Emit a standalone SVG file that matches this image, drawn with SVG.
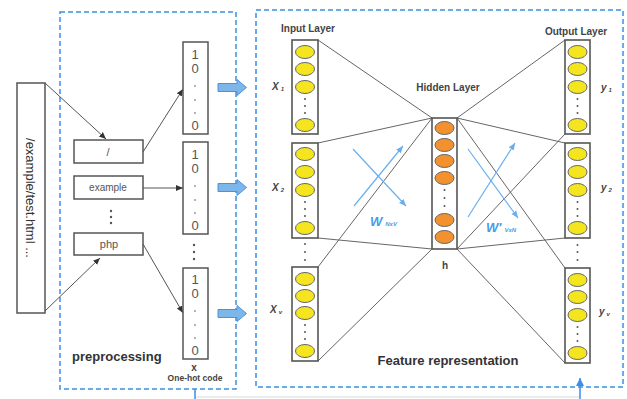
<svg xmlns="http://www.w3.org/2000/svg" width="627" height="399" viewBox="0 0 627 399">
  <defs>
    <style>
      text { font-family: "Liberation Sans", Arial, sans-serif; }
      .frame { fill: none; stroke: #3d8ee6; stroke-width: 1.5; stroke-dasharray: 5 3; }
      .box { fill: #fff; stroke: #555; stroke-width: 1.5; }
      .col { fill: #fff; stroke: #555; stroke-width: 1.6; }
      .yel { fill: #f4e51e; stroke: #666; stroke-width: 1; }
      .org { fill: #f2912d; stroke: #666; stroke-width: 1; }
      .edge { stroke: #555; stroke-width: 1; fill: none; }
      .net { stroke: #666; stroke-width: 1; fill: none; }
      .w { stroke: #6aaef0; stroke-width: 1.2; fill: none; marker-end: url(#bluehead); }
      .dig { font-size: 13px; fill: #555; text-anchor: middle; }
      .lbl { font-size: 10px; font-weight: bold; fill: #444; text-anchor: middle; }
      .var { font-size: 10px; font-style: italic; font-weight: bold; fill: #444; }
      .sub { font-size: 6px; font-style: italic; }
      .dots { fill: #555; }
      .blk { fill: #7db7ea; stroke: #4e92d6; stroke-width: 1; }
    </style>
    <marker id="head" markerWidth="8" markerHeight="8" refX="7" refY="4" orient="auto" markerUnits="userSpaceOnUse">
      <path d="M0,1 L7,4 L0,7 Z" fill="#333"/>
    </marker>
    <marker id="bluehead" markerWidth="8" markerHeight="8" refX="7" refY="4" orient="auto" markerUnits="userSpaceOnUse">
      <path d="M0,1 L7,4 L0,7 Z" fill="#6aaef0"/>
    </marker>
    <marker id="uphead" markerWidth="10" markerHeight="10" refX="8" refY="5" orient="auto" markerUnits="userSpaceOnUse">
      <path d="M0,1 L8,5 L0,9 Z" fill="#3d8ee6"/>
    </marker>
    <symbol id="blockarrow" viewBox="0 0 29 17" overflow="visible">
      <path class="blk" d="M0,4.5 H19 V0.5 L28.5,8.5 L19,16.5 V12.5 H0 Z"/>
    </symbol>
  </defs>

  <rect width="627" height="399" fill="#fff"/>

  <!-- dashed frames -->
  <rect class="frame" x="60" y="12" width="176" height="377"/>
  <rect class="frame" x="256" y="10" width="367" height="377"/>

  <!-- connectors -->
  <g id="connectors">
    <line class="edge" x1="45" y1="83" x2="106" y2="139" marker-end="url(#head)"/>
    <line class="edge" x1="45" y1="311" x2="100" y2="258" marker-end="url(#head)"/>
    <line class="edge" x1="143" y1="152" x2="183" y2="89" marker-end="url(#head)"/>
    <line class="edge" x1="143" y1="188" x2="183" y2="188" marker-end="url(#head)"/>
    <line class="edge" x1="143" y1="244" x2="183" y2="313" marker-end="url(#head)"/>

    <!-- input to hidden -->
    <line class="net" x1="318" y1="40" x2="432" y2="118"/>
    <line class="net" x1="318" y1="143" x2="432" y2="118"/>
    <line class="net" x1="318" y1="267" x2="432" y2="118"/>
    <line class="net" x1="318" y1="238" x2="432" y2="249"/>
    <line class="net" x1="318" y1="361" x2="432" y2="249"/>
    <!-- hidden to output -->
    <line class="net" x1="457" y1="118" x2="565" y2="40"/>
    <line class="net" x1="457" y1="118" x2="565" y2="143"/>
    <line class="net" x1="457" y1="118" x2="565" y2="268"/>
    <line class="net" x1="457" y1="249" x2="565" y2="134"/>
    <line class="net" x1="457" y1="249" x2="565" y2="238"/>
    <line class="net" x1="457" y1="249" x2="565" y2="363"/>

    <!-- weight arrows -->
    <line class="w" x1="353" y1="149" x2="406" y2="206"/>
    <line class="w" x1="354" y1="206" x2="403" y2="146"/>
    <line class="w" x1="468" y1="149" x2="518" y2="218"/>
    <line class="w" x1="468" y1="217" x2="515" y2="143"/>

    <!-- block arrows into the network -->
    <use href="#blockarrow" x="218" y="79" width="29" height="17"/>
    <use href="#blockarrow" x="218" y="179" width="29" height="17"/>
    <use href="#blockarrow" x="218" y="305" width="29" height="17"/>

    <!-- feedback path along the bottom -->
    <line x1="195" y1="397" x2="580" y2="397" stroke="#dcdcdc" stroke-width="1"/>
    <line x1="195" y1="389" x2="195" y2="399" stroke="#3d8ee6" stroke-width="1.5"/>
    <line x1="580" y1="399" x2="580" y2="378" stroke="#3d8ee6" stroke-width="1.5" marker-end="url(#uphead)"/>
  </g>

  <!-- URL -->
  <g id="url">
    <rect class="box" x="17" y="83" width="28" height="230"/>
    <text transform="translate(26,198) rotate(90)" font-size="13" fill="#333" text-anchor="middle">/example/test.html ...</text>
  </g>

  <!-- tokens -->
  <g id="tok-slash">
    <rect class="box" x="74" y="140" width="69" height="23"/>
    <text x="108" y="156" font-size="11" fill="#555" text-anchor="middle">/</text>
  </g>
  <g id="tok-example">
    <rect class="box" x="74" y="176" width="69" height="23"/>
    <text x="108" y="191" font-size="10" fill="#555" text-anchor="middle">example</text>
  </g>
  <g id="tok-dots" class="dots">
    <circle cx="111" cy="211" r="1.2"/>
    <circle cx="111" cy="217" r="1.2"/>
    <circle cx="111" cy="223" r="1.2"/>
  </g>
  <g id="tok-php">
    <rect class="box" x="74" y="233" width="69" height="22"/>
    <text x="109" y="248" font-size="11" fill="#555" text-anchor="middle">php</text>
  </g>

  <!-- one-hot vectors -->
  <g id="onehot-1">
    <rect class="box" x="183" y="42" width="25" height="92"/>
    <text class="dig" x="195" y="59">1</text>
    <text class="dig" x="195" y="73">0</text>
    <circle class="dots" cx="195" cy="86" r="0.8"/>
    <circle class="dots" cx="195" cy="100" r="0.8"/>
    <circle class="dots" cx="195" cy="113" r="0.8"/>
    <text class="dig" x="195" y="130">0</text>
  </g>
  <g id="onehot-2">
    <rect class="box" x="183" y="142" width="25" height="92"/>
    <text class="dig" x="195" y="159">1</text>
    <text class="dig" x="195" y="173">0</text>
    <circle class="dots" cx="195" cy="186" r="0.8"/>
    <circle class="dots" cx="195" cy="200" r="0.8"/>
    <circle class="dots" cx="195" cy="213" r="0.8"/>
    <text class="dig" x="195" y="230">0</text>
  </g>
  <g id="onehot-dots" class="dots">
    <circle cx="194" cy="245" r="1.2"/>
    <circle cx="194" cy="252" r="1.2"/>
    <circle cx="194" cy="259" r="1.2"/>
  </g>
  <g id="onehot-3">
    <rect class="box" x="183" y="268" width="25" height="91"/>
    <text class="dig" x="195" y="284">1</text>
    <text class="dig" x="195" y="298">0</text>
    <circle class="dots" cx="195" cy="311" r="0.8"/>
    <circle class="dots" cx="195" cy="325" r="0.8"/>
    <circle class="dots" cx="195" cy="338" r="0.8"/>
    <text class="dig" x="195" y="355">0</text>
    <text x="194" y="371" font-size="10" font-weight="bold" fill="#444" text-anchor="middle">x</text>
    <text x="195" y="381" font-size="8.5" font-weight="bold" fill="#444" text-anchor="middle">One-hot code</text>
  </g>

  <text x="72" y="361" font-size="13" font-weight="bold" fill="#333">preprocessing</text>

  <!-- input layer -->
  <g id="input-layer">
    <text class="lbl" x="308" y="32">Input Layer</text>
  </g>
  <g id="input-1">
    <rect class="col" x="292" y="40" width="26" height="94"/>
    <ellipse class="yel" cx="305" cy="52" rx="9.5" ry="6.5"/>
    <ellipse class="yel" cx="305" cy="69" rx="9.5" ry="6.5"/>
    <ellipse class="yel" cx="305" cy="87" rx="9.5" ry="6.5"/>
    <circle class="dots" cx="305" cy="99" r="1"/>
    <circle class="dots" cx="305" cy="106" r="1"/>
    <circle class="dots" cx="305" cy="113" r="1"/>
    <ellipse class="yel" cx="305" cy="125" rx="9.5" ry="6.5"/>
    <text class="var" x="272" y="90">X<tspan class="sub" dx="2" dy="1">1</tspan></text>
  </g>
  <g id="input-2">
    <rect class="col" x="292" y="143" width="26" height="95"/>
    <ellipse class="yel" cx="305" cy="154" rx="9.5" ry="6.5"/>
    <ellipse class="yel" cx="305" cy="172" rx="9.5" ry="6.5"/>
    <ellipse class="yel" cx="305" cy="190" rx="9.5" ry="6.5"/>
    <circle class="dots" cx="305" cy="202" r="1"/>
    <circle class="dots" cx="305" cy="209" r="1"/>
    <circle class="dots" cx="305" cy="216" r="1"/>
    <ellipse class="yel" cx="305" cy="228" rx="9.5" ry="6.5"/>
    <text class="var" x="272" y="191">X<tspan class="sub" dx="2" dy="1">2</tspan></text>
  </g>
  <g id="input-dots" class="dots">
    <circle cx="305" cy="244" r="1"/>
    <circle cx="305" cy="252" r="1"/>
    <circle cx="305" cy="260" r="1"/>
  </g>
  <g id="input-v">
    <rect class="col" x="292" y="267" width="26" height="94"/>
    <ellipse class="yel" cx="305" cy="279" rx="9.5" ry="6.5"/>
    <ellipse class="yel" cx="305" cy="296" rx="9.5" ry="6.5"/>
    <ellipse class="yel" cx="305" cy="313" rx="9.5" ry="6.5"/>
    <circle class="dots" cx="305" cy="325" r="1"/>
    <circle class="dots" cx="305" cy="332" r="1"/>
    <circle class="dots" cx="305" cy="339" r="1"/>
    <ellipse class="yel" cx="305" cy="351" rx="9.5" ry="6.5"/>
    <text class="var" x="270" y="313">X<tspan class="sub" dx="2" dy="1">v</tspan></text>
  </g>

  <!-- hidden layer -->
  <g id="hidden-layer">
    <text class="lbl" x="448" y="91">Hidden Layer</text>
    <rect class="col" x="432" y="118" width="25" height="131"/>
    <ellipse class="org" cx="444.5" cy="128" rx="9.5" ry="6.5"/>
    <ellipse class="org" cx="444.5" cy="145" rx="9.5" ry="6.5"/>
    <ellipse class="org" cx="444.5" cy="161" rx="9.5" ry="6.5"/>
    <ellipse class="org" cx="444.5" cy="178" rx="9.5" ry="6.5"/>
    <circle class="dots" cx="444.5" cy="190" r="1"/>
    <circle class="dots" cx="444.5" cy="198" r="1"/>
    <circle class="dots" cx="444.5" cy="206" r="1"/>
    <ellipse class="org" cx="444.5" cy="220" rx="9.5" ry="6.5"/>
    <ellipse class="org" cx="444.5" cy="237" rx="9.5" ry="6.5"/>
    <text x="445" y="269" font-size="10" font-weight="bold" fill="#444" text-anchor="middle">h</text>
  </g>

  <!-- weight labels -->
  <text x="370" y="226" font-size="13" font-style="italic" font-weight="bold" fill="#4a9be8">W<tspan font-size="6" dx="3">NxV</tspan></text>
  <text x="486" y="232" font-size="13" font-style="italic" font-weight="bold" fill="#4a9be8">W'<tspan font-size="6" dx="3">VxN</tspan></text>

  <!-- output layer -->
  <g id="output-layer">
    <text class="lbl" x="576" y="35">Output Layer</text>
  </g>
  <g id="output-1">
    <rect class="col" x="565" y="40" width="25" height="94"/>
    <ellipse class="yel" cx="577.5" cy="52" rx="9.5" ry="6.5"/>
    <ellipse class="yel" cx="577.5" cy="69" rx="9.5" ry="6.5"/>
    <ellipse class="yel" cx="577.5" cy="87" rx="9.5" ry="6.5"/>
    <circle class="dots" cx="577.5" cy="99" r="1"/>
    <circle class="dots" cx="577.5" cy="106" r="1"/>
    <circle class="dots" cx="577.5" cy="113" r="1"/>
    <ellipse class="yel" cx="577.5" cy="125" rx="9.5" ry="6.5"/>
    <text class="var" x="601" y="91">y<tspan class="sub" dx="2" dy="1">1</tspan></text>
  </g>
  <g id="output-2">
    <rect class="col" x="565" y="143" width="25" height="95"/>
    <ellipse class="yel" cx="577.5" cy="154" rx="9.5" ry="6.5"/>
    <ellipse class="yel" cx="577.5" cy="172" rx="9.5" ry="6.5"/>
    <ellipse class="yel" cx="577.5" cy="190" rx="9.5" ry="6.5"/>
    <circle class="dots" cx="577.5" cy="202" r="1"/>
    <circle class="dots" cx="577.5" cy="209" r="1"/>
    <circle class="dots" cx="577.5" cy="216" r="1"/>
    <ellipse class="yel" cx="577.5" cy="228" rx="9.5" ry="6.5"/>
    <text class="var" x="601" y="191">y<tspan class="sub" dx="2" dy="1">2</tspan></text>
  </g>
  <g id="output-dots" class="dots">
    <circle cx="577.5" cy="245" r="1"/>
    <circle cx="577.5" cy="252" r="1"/>
    <circle cx="577.5" cy="260" r="1"/>
  </g>
  <g id="output-v">
    <rect class="col" x="565" y="268" width="25" height="95"/>
    <ellipse class="yel" cx="577.5" cy="280" rx="9.5" ry="6.5"/>
    <ellipse class="yel" cx="577.5" cy="297" rx="9.5" ry="6.5"/>
    <ellipse class="yel" cx="577.5" cy="315" rx="9.5" ry="6.5"/>
    <circle class="dots" cx="577.5" cy="327" r="1"/>
    <circle class="dots" cx="577.5" cy="334" r="1"/>
    <circle class="dots" cx="577.5" cy="341" r="1"/>
    <ellipse class="yel" cx="577.5" cy="353" rx="9.5" ry="6.5"/>
    <text class="var" x="599" y="315">y<tspan class="sub" dx="2" dy="1">v</tspan></text>
  </g>

  <text x="448" y="365" font-size="13" font-weight="bold" fill="#333" text-anchor="middle">Feature representation</text>
</svg>
